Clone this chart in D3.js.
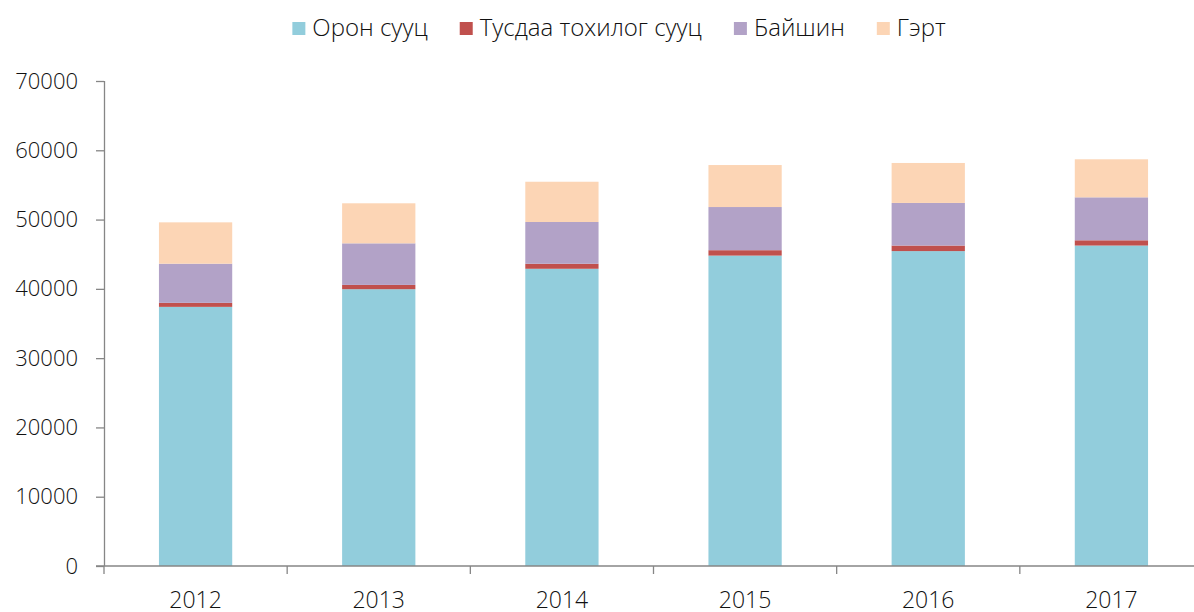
<!DOCTYPE html>
<html>
<head>
<meta charset="utf-8">
<script src="https://cdn.jsdelivr.net/npm/d3@7"></script>
<style>
  body { margin: 0; background: #fff; }
  text { font-family: "Open Sans", sans-serif; font-weight: 300; fill: #111; }
</style>
</head>
<body>
<div id="chart"></div>
<script>
"use strict";

// data
const years = ["2012", "2013", "2014", "2015", "2016", "2017"];
const seriesNames = ["Орон сууц", "Тусдаа тохилог сууц", "Байшин", "Гэрт"];
const apartment = [37400, 39950, 42900, 44800, 45450, 46250];
const privateHouse = [580, 620, 720, 780, 800, 760];
const house = [5650, 6000, 6030, 6230, 6150, 6200];
const ger = [5970, 5780, 5810, 6060, 5770, 5490];
const yTicks = [0, 10000, 20000, 30000, 40000, 50000, 60000, 70000];
const colors = ["#92cddc", "#c0504d", "#b2a2c7", "#fcd5b5"];

function init() {
    draw();
}
window.onload = init;

function draw() {
    const W = 1194, H = 612;
    const margin = {top: 81, left: 104, bottom: 46};
    const plotW = 1099;                // axis runs past the right edge, as in the picture
    const plotH = H - margin.top - margin.bottom;

    const svg = d3.select("#chart")
        .append("svg")
        .attr("width", W)
        .attr("height", H);

    const rows = years.map((y, i) => ({
        year: y,
        "Орон сууц": apartment[i],
        "Тусдаа тохилог сууц": privateHouse[i],
        "Байшин": house[i],
        "Гэрт": ger[i]
    }));
    const stacked = d3.stack().keys(seriesNames)(rows);

    const x = d3.scaleBand()
        .domain(years)
        .range([margin.left, margin.left + plotW])
        .paddingInner(0.6)
        .paddingOuter(0.3);

    const y = d3.scaleLinear()
        .domain([0, 70000])
        .range([margin.top + plotH, margin.top]);

    const color = d3.scaleOrdinal().domain(seriesNames).range(colors);

    // bars
    svg.append("g")
        .selectAll("g")
        .data(stacked)
        .join("g")
        .attr("fill", d => color(d.key))
        .selectAll("rect")
        .data(d => d)
        .join("rect")
        .attr("x", d => x(d.data.year))
        .attr("width", x.bandwidth())
        .attr("y", d => y(d[1]))
        .attr("height", d => y(d[0]) - y(d[1]));

    // y axis
    const yAxis = svg.append("g")
        .attr("transform", `translate(${margin.left},0)`)
        .call(d3.axisLeft(y).tickValues(yTicks).tickFormat(d3.format("d")).tickSize(8).tickPadding(18));
    yAxis.selectAll("line, path").attr("stroke", "#868686").attr("stroke-width", 1.3);
    yAxis.select(".domain").attr("d", `M0.5,${y(70000)}V${y(0)}`);
    yAxis.selectAll("text").style("font-size", "22px").style("font-family", null);

    // x axis, ticks sit between the categories
    const xAxis = svg.append("g")
        .attr("transform", `translate(0,${y(0)})`);
    xAxis.append("line")
        .attr("x1", margin.left - 8).attr("x2", margin.left + plotW)
        .attr("stroke", "#868686").attr("stroke-width", 1.3);
    const bounds = d3.range(years.length + 1).map(i => margin.left + i * x.step());
    xAxis.selectAll(".tk")
        .data(bounds)
        .join("line")
        .attr("x1", d => d).attr("x2", d => d)
        .attr("y1", 0).attr("y2", 8)
        .attr("stroke", "#868686").attr("stroke-width", 1.3);
    xAxis.selectAll(".lbl")
        .data(years)
        .join("text")
        .attr("x", d => x(d) + x.bandwidth() / 2)
        .attr("y", 42)
        .attr("text-anchor", "middle")
        .style("font-size", "23px")
        .text(d => d);

    // legend
    const legend = svg.append("g").attr("transform", "translate(0,28)");
    const items = legend.selectAll("g")
        .data(seriesNames)
        .join("g");
    items.append("rect")
        .attr("width", 13).attr("height", 13)
        .attr("y", -6)
        .attr("fill", d => color(d));
    items.append("text")
        .attr("x", 20)
        .attr("y", 8)
        .style("font-size", "24px")
        .text(d => d);

    let pos = 0;
    const offsets = [];
    items.each(function () {
        offsets.push(pos);
        pos += 20 + this.querySelector("text").getComputedTextLength() + 32;
    });
    const total = pos - 32;
    const start = 619 - total / 2;
    items.attr("transform", (d, i) => `translate(${start + offsets[i]},0)`);
}
</script>
</body>
</html>
